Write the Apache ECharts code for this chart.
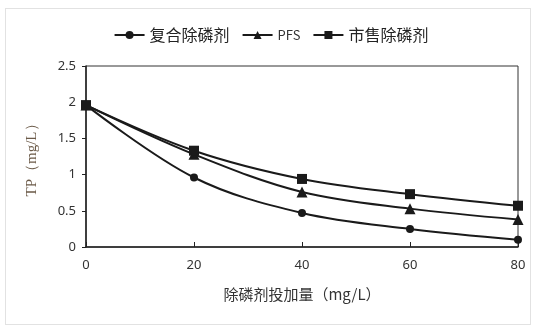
<!DOCTYPE html>
<html>
<head>
<meta charset="utf-8">
<script src="https://cdn.jsdelivr.net/npm/echarts@6/dist/echarts.min.js"></script>
<style>
  html, body { margin: 0; padding: 0; background: #fff; }
  #frame { position: absolute; left: 5px; top: 8px; width: 526px; height: 317px; border: 1px solid #e2e2e2; box-sizing: border-box; }
  #chart { width: 542px; height: 328px; position: absolute; left: 0; top: 0; }
</style>
</head>
<body>
<div id="frame"></div>
<div id="chart"></div>
<script>
// Phosphorus remover dosage (mg/L) against residual TP (mg/L)
const dosage = [0, 20, 40, 60, 80];
const compositeRemover = [1.96, 0.96, 0.47, 0.25, 0.10];
const pfs = [1.96, 1.28, 0.76, 0.53, 0.38];
const commercialRemover = [1.96, 1.33, 0.94, 0.73, 0.57];
const seriesNames = ['复合除磷剂', 'PFS', '市售除磷剂'];
const yTicks = [0, 0.5, 1, 1.5, 2, 2.5];

const pairs = vals => dosage.map((d, i) => [d, vals[i]]);
const lineStyle = { color: '#1a1a1a', width: 2 };
const mk = (name, vals, symbol, size) => ({
  name, type: 'line', data: pairs(vals), smooth: 0.35,
  symbol, symbolSize: size, lineStyle, itemStyle: { color: '#1a1a1a' },
  emphasis: { disabled: true }
});

const chart = echarts.init(document.getElementById('chart'));
chart.setOption({
  animation: false,
  legend: {
    top: 22, left: 'center', itemGap: 12, itemWidth: 30, itemHeight: 10,
    textStyle: { fontFamily: 'Noto Sans CJK SC', fontSize: 16, color: '#222' },
    data: [
      { name: seriesNames[0] },
      { name: seriesNames[1], textStyle: { fontSize: 13, color: '#333' } },
      { name: seriesNames[2] }
    ]
  },
  grid: { left: 86, top: 66, width: 432, height: 181, show: true, borderColor: '#333', borderWidth: 1 },
  xAxis: {
    type: 'value', min: 0, max: 80, interval: 20,
    name: '除磷剂投加量（mg/L）', nameLocation: 'middle', nameGap: 40,
    nameTextStyle: { fontFamily: 'Noto Sans CJK SC', fontSize: 15, color: '#333' },
    axisLine: { lineStyle: { color: '#222', width: 1.5 } },
    axisTick: { inside: true, length: 5, lineStyle: { color: '#222' } },
    axisLabel: { fontFamily: 'Noto Sans', fontSize: 13, color: '#333', margin: 12 },
    splitLine: { show: false }
  },
  yAxis: {
    type: 'value', min: 0, max: 2.5, interval: 0.5,
    name: 'TP（mg/L）', nameLocation: 'middle', nameGap: 46, nameRotate: 90,
    nameTextStyle: { fontFamily: 'Liberation Serif', fontSize: 15, color: '#6b5a48' },
    axisLine: { show: true, lineStyle: { color: '#222', width: 1.5 } },
    axisTick: { show: true, length: 4, lineStyle: { color: '#222' } },
    axisLabel: {
      fontFamily: 'Noto Sans', fontSize: 13, color: '#333', margin: 10,
      formatter: v => (yTicks.includes(v) ? String(v) : '')
    },
    splitLine: { show: false }
  },
  series: [
    mk(seriesNames[0], compositeRemover, 'circle', 8),
    mk(seriesNames[1], pfs, 'triangle', 11),
    mk(seriesNames[2], commercialRemover, 'rect', 10)
  ]
});
</script>
</body>
</html>
